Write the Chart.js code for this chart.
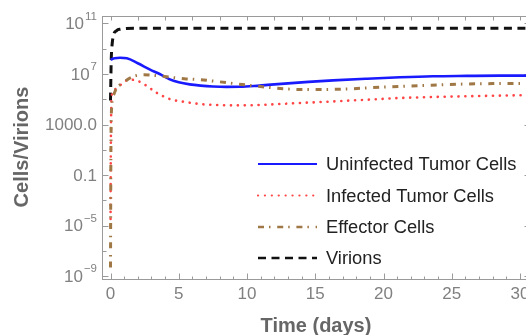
<!DOCTYPE html>
<html>
<head>
<meta charset="utf-8">
<script src="https://cdn.jsdelivr.net/npm/chart.js@4.4.1/dist/chart.umd.min.js"></script>
<style>
  html, body { margin: 0; padding: 0; background: #fff; overflow: hidden; }
  #wrap { width: 545px; height: 335px; }
</style>
</head>
<body>
<div id="wrap"><canvas id="chart" width="545" height="335"></canvas></div>
<script>
// values (time in days, counts on a log axis)
const timeUninfected = [0, 0.3, 0.7, 1.2, 2.0, 2.9, 3.6, 4.3, 5.0, 5.8, 6.6, 7.5, 8.5, 9.5, 10.5, 11.5, 13, 14.5, 16.3, 18.8, 21.2, 23.6, 26.1, 28.5, 30.7];
const uninfected = [1.38e8, 1.74e8, 1.91e8, 1.74e8, 7.08e7, 2.24e7, 1.0e7, 3.98e6, 2.24e6, 1.51e6, 1.2e6, 1.02e6, 9.55e5, 9.77e5, 1.12e6, 1.38e6, 1.82e6, 2.4e6, 3.16e6, 4.27e6, 5.5e6, 6.61e6, 7.08e6, 7.41e6, 7.41e6];

const timeInfected = [0, 0.03, 0.1, 0.35, 0.7, 1.0, 1.5, 2.0, 2.6, 3.4, 4.4, 5.4, 6.6, 7.8, 9.0, 10.3, 11.5, 13.9, 16.3, 18.8, 21.2, 23.6, 26.1, 28.5, 30.7];
const infected = [1e-5, 100, 2.34e5, 6.31e5, 1.26e6, 2.51e6, 3.55e6, 2.82e6, 1.26e6, 3.16e5, 1e5, 6.31e4, 4.17e4, 3.55e4, 3.31e4, 3.39e4, 3.8e4, 5.13e4, 6.76e4, 9.33e4, 1.26e5, 1.51e5, 1.74e5, 1.95e5, 2.14e5];

const timeEffector = [0, 0.03, 0.1, 0.25, 0.45, 0.7, 0.95, 1.3, 1.7, 2.4, 3.4, 4.4, 5.4, 6.6, 8.0, 9.0, 10.2, 11.5, 12.7, 14.4, 17, 19.7, 22.6, 25.4, 28, 30.7];
const effector = [5.01e-9, 10, 3.72e4, 2.51e5, 7.94e5, 1.41e6, 2.0e6, 3.98e6, 6.61e6, 8.91e6, 7.41e6, 5.5e6, 4.27e6, 3.55e6, 2.4e6, 1.78e6, 1.26e6, 8.91e5, 6.76e5, 5.89e5, 6.31e5, 8.91e5, 1.2e6, 1.55e6, 1.74e6, 1.82e6];

const timeVirions = [0, 0.05, 0.1, 0.2, 0.45, 0.75, 1.1, 2, 5, 10, 15, 20, 25, 30.7];
const virions = [7.94e4, 1e8, 1.26e9, 1e10, 2.75e10, 3.55e10, 3.98e10, 4.17e10, 4.17e10, 4.17e10, 4.17e10, 4.17e10, 4.17e10, 4.17e10];

// axis ticks
const xTickValues = [0, 5, 10, 15, 20, 25, 30];
const yTickValues = [1e11, 1e7, 1000, 0.1, 1e-5, 1e-9];
const yTickLabels = ['10^11', '10^7', '1000.0', '0.1', '10^\u22125', '10^\u22129'];
const yMinorTicks = [1e9, 1e5, 10, 1e-3, 1e-7];

const seriesNames = ['Uninfected Tumor Cells', 'Infected Tumor Cells', 'Effector Cells', 'Virions'];

const FONT = '"Liberation Sans", Arial, sans-serif';

function pts(t, v) {
  return t.map((x, i) => ({ x, y: v[i] }));
}

const styles = [
  { color: '#1a1aff', width: 2.6, dash: [], cap: 'butt' },
  { color: '#ff4545', width: 2.6, dash: [0.1, 6.8], cap: 'round' },
  { color: '#a07846', width: 3, dash: [6, 5, 1.5, 6.7], cap: 'butt' },
  { color: '#111111', width: 3, dash: [8, 5.5], cap: 'butt' }
];

// frame, ticks and axis labels in Mathematica style (ticks pointing inward)
const framePlugin = {
  id: 'frame',
  beforeDatasetsDraw(chart) {
    const { ctx, chartArea: a, scales } = chart;
    const xs = scales.x, ys = scales.y;
    const L = Math.round(a.left) + 0.5, R = Math.round(a.right) + 0.5;
    const T = Math.round(a.top) + 0.5, B = Math.round(a.bottom) + 0.5;
    ctx.save();
    ctx.strokeStyle = '#9a9a9a';
    ctx.lineWidth = 1;
    ctx.strokeRect(L, T, R - L, B - T);

    ctx.beginPath();
    // left / right ticks
    yTickValues.forEach(v => {
      const y = Math.round(ys.getPixelForValue(v)) + 0.5;
      ctx.moveTo(L, y); ctx.lineTo(L + 6, y);
      ctx.moveTo(R, y); ctx.lineTo(R - 6, y);
    });
    yMinorTicks.forEach(v => {
      const y = Math.round(ys.getPixelForValue(v)) + 0.5;
      ctx.moveTo(L, y); ctx.lineTo(L + 4, y);
      ctx.moveTo(R, y); ctx.lineTo(R - 4, y);
    });
    // bottom ticks: major every 5 days, minor every day
    for (let d = 0; d <= 30; d++) {
      const x = Math.round(xs.getPixelForValue(d)) + 0.5;
      const len = d % 5 === 0 ? 6 : 3;
      ctx.moveTo(x, B); ctx.lineTo(x, B - len);
    }
    // top ticks every 2 days
    for (let d = 0; d <= 30; d += 2) {
      const x = Math.round(xs.getPixelForValue(d)) + 0.5;
      ctx.moveTo(x, T); ctx.lineTo(x, T + 4);
    }
    ctx.stroke();

    // x tick labels
    ctx.fillStyle = '#808080';
    ctx.font = '17px ' + FONT;
    ctx.textAlign = 'center';
    ctx.textBaseline = 'middle';
    xTickValues.forEach(v => {
      ctx.fillText(String(v), xs.getPixelForValue(v), 294);
    });

    // y tick labels, with raised exponents
    const xr = 97;
    yTickValues.forEach((v, i) => {
      const y = ys.getPixelForValue(v);
      const parts = yTickLabels[i].split('^');
      ctx.textAlign = 'right';
      ctx.textBaseline = 'middle';
      if (parts.length === 2) {
        ctx.font = '11.5px ' + FONT;
        const w = ctx.measureText(parts[1]).width;
        ctx.fillText(parts[1], xr, y - 7);
        ctx.font = '17px ' + FONT;
        ctx.fillText(parts[0], xr - w - 1, y + 1);
      } else {
        ctx.font = '17px ' + FONT;
        ctx.fillText(parts[0], xr, y + 1);
      }
    });

    // axis titles
    ctx.fillStyle = '#666666';
    ctx.font = 'bold 20px ' + FONT;
    ctx.textAlign = 'center';
    ctx.textBaseline = 'middle';
    ctx.fillText('Time (days)', (a.left + a.right) / 2, 326);
    ctx.save();
    ctx.translate(22, (a.top + a.bottom) / 2);
    ctx.rotate(-Math.PI / 2);
    ctx.fillText('Cells/Virions', 0, 0);
    ctx.restore();
    ctx.restore();
  }
};

// legend placed inside the plot like the original
const legendPlugin = {
  id: 'insideLegend',
  afterDatasetsDraw(chart) {
    const { ctx } = chart;
    const rows = [164, 195.5, 227, 258];
    ctx.save();
    seriesNames.forEach((name, i) => {
      const s = styles[i];
      ctx.strokeStyle = s.color;
      ctx.lineWidth = s.width - 0.4;
      ctx.lineCap = s.cap;
      ctx.setLineDash(s.dash);
      ctx.beginPath();
      ctx.moveTo(258, rows[i]);
      ctx.lineTo(317, rows[i]);
      ctx.stroke();
      ctx.setLineDash([]);
      ctx.fillStyle = '#222222';
      ctx.font = '18.3px ' + FONT;
      ctx.textAlign = 'left';
      ctx.textBaseline = 'middle';
      ctx.fillText(name, 326, rows[i] + 1);
    });
    ctx.restore();
  }
};

const seriesData = [
  pts(timeUninfected, uninfected),
  pts(timeInfected, infected),
  pts(timeEffector, effector),
  pts(timeVirions, virions)
];

// draw virions last so it sits on top near t = 0
const order = [2, 1, 0, 3];

new Chart(document.getElementById('chart'), {
  type: 'line',
  data: {
    datasets: seriesNames.map((name, i) => ({
      label: name,
      data: seriesData[i],
      borderColor: styles[i].color,
      borderWidth: styles[i].width,
      borderDash: styles[i].dash,
      borderCapStyle: styles[i].cap,
      pointRadius: 0,
      fill: false,
      cubicInterpolationMode: 'monotone',
      order: order[i]
    }))
  },
  options: {
    responsive: false,
    animation: false,
    devicePixelRatio: 1,
    layout: { padding: { left: 102, right: 15, top: 15.5, bottom: 56.5 } },
    plugins: { legend: { display: false }, tooltip: { enabled: false } },
    scales: {
      x: { type: 'linear', min: -0.623, max: 30.73, display: false },
      y: {
        type: 'logarithmic',
        min: Math.pow(10, -9.18),
        max: Math.pow(10, 11.63),
        bounds: 'data',
        display: false
      }
    }
  },
  plugins: [framePlugin, legendPlugin]
});
</script>
</body>
</html>
